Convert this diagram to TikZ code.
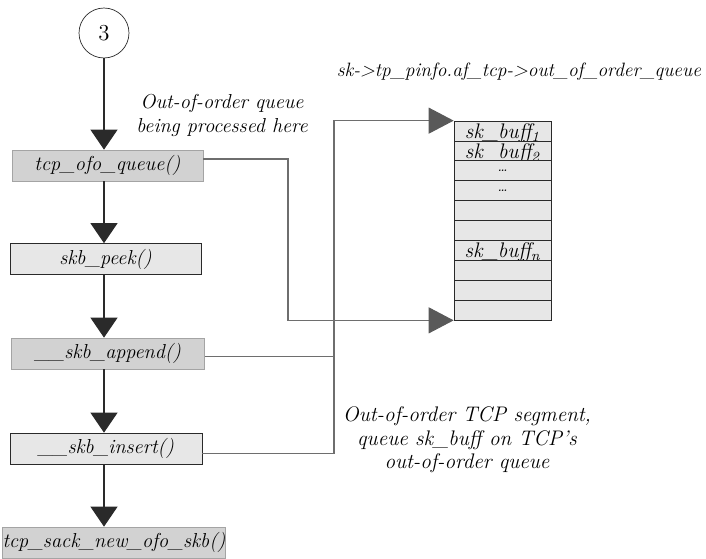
\documentclass[tikz,border=0pt]{standalone}
\usepackage{fontspec}
\usepackage{xcolor}
\usetikzlibrary{arrows.meta}
\definecolor{OFODark}{HTML}{D2D2D2}
\definecolor{OFOLight}{HTML}{E7E7E7}
\definecolor{OFOEdge}{HTML}{A4A4A4}
\definecolor{OFOInk}{HTML}{2A2A2A}
\definecolor{OFOWire}{HTML}{6E6E6E}
\definecolor{OFOHead}{HTML}{595959}

\begin{document}
\begin{tikzpicture}[x=0.02cm,y=-0.02cm,
  fnbox/.style={inner sep=0pt,minimum height=0.62cm,font=\fontsize{11.5}{13}\selectfont\itshape},
  darkfn/.style={fnbox,fill=OFODark,draw=OFOEdge},
  lightfn/.style={fnbox,fill=OFOLight,draw=OFOInk},
  flow/.style={OFOInk,line width=0.6pt,-{Triangle[length=0.4cm,width=0.54cm]}},
  wire/.style={OFOWire,line width=0.6pt},
  wirehead/.style={wire,-{Triangle[length=0.5cm,width=0.52cm,color=OFOHead,fill=OFOHead]}},
  slot/.style={draw=OFOInk,fill=OFOLight,minimum width=1.94cm,minimum height=0.398cm,inner sep=0pt,text depth=0pt,font=\fontsize{12}{13}\selectfont\itshape},
  note/.style={align=center,font=\fontsize{11.5}{13.3}\selectfont\itshape}]
\path[use as bounding box] (0,0) rectangle (706,558);
\node[circle,draw=OFOInk,minimum size=1cm,inner sep=0pt,font=\fontsize{13}{15}\selectfont] (start) at (104,33) {3};
\node[darkfn,minimum width=3.82cm] (ofo) at (107.5,165.5) {tcp\_ofo\_queue()};
\node[lightfn,minimum width=3.82cm] (peek) at (105.5,259) {skb\_peek()};
\node[darkfn,minimum width=3.86cm] (append) at (108,353.5) {\_\_skb\_append()};
\node[lightfn,minimum width=3.84cm] (insert) at (106,448.5) {\_\_skb\_insert()};
\node[darkfn,minimum width=4.28cm] (sack) at (114,542.5) {tcp\_sack\_new\_ofo\_skb()};
\draw[flow] (start.south) -- (ofo.north -| start);
\draw[flow] (ofo.south -| start) -- (peek.north -| start);
\draw[flow] (peek.south -| start) -- (append.north -| start);
\draw[flow] (append.south -| start) -- (insert.north -| start);
\draw[flow] (insert.south -| start) -- (sack.north -| start);
\foreach \i/\lbl in {1/{sk\_buff\textsubscript{1}},2/{sk\_buff\textsubscript{2}},3/{\footnotesize\dots},4/{\footnotesize\dots},5/{},6/{},7/{sk\_buff\textsubscript{n}},8/{},9/{},10/{}}
  \node[slot] (q\i) at (502.5,{121+(\i-0.5)*19.9}) {\lbl};
\coordinate (ofoturn) at (288,0);
\coordinate (bus) at (334,0);
\draw[wirehead] ([yshift=0.13cm]ofo.east) -- ([yshift=0.13cm]ofo.east -| ofoturn) |- (q10.south west);
\draw[wire] ([yshift=-0.06cm]append.east) -- ([yshift=-0.06cm]append.east -| bus);
\draw[wirehead] ([yshift=-0.1cm]insert.east) -- ([yshift=-0.1cm]insert.east -| bus) -- (bus |- q1.north west) -- (q1.north west);
\node[note] (procnote) at (222,115.5) {Out-of-order queue\\being processed here};
\node[note,font=\fontsize{11}{13}\selectfont\itshape] (qname) at (519,72) {sk->tp\_pinfo.af\_tcp->out\_of\_order\_queue};
\node[note,font=\fontsize{12}{13.3}\selectfont\itshape] (segnote) at (467,440) {Out-of-order TCP segment,\\queue sk\_buff on TCP's\\out-of-order queue};
\end{tikzpicture}
\end{document}
